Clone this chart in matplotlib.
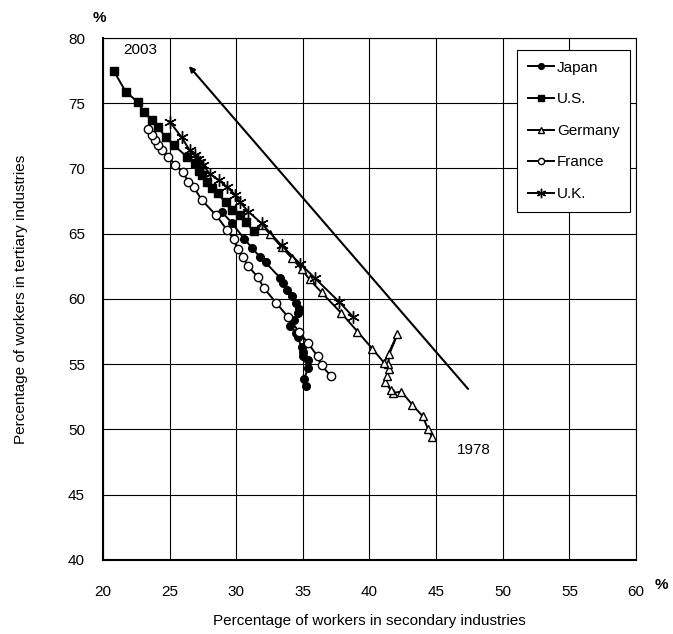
import matplotlib.pyplot as plt

plt.rcParams['font.family'] = ['Liberation Sans', 'DejaVu Sans']

# secondary (x) / tertiary (y) share of workers, 1978 -> 2003
japan_x = [35.2, 35.1, 35.4, 35.4, 35.0, 35.0, 34.9, 34.6, 34.5, 34.0, 34.3, 34.6,
           34.7, 34.5, 34.2, 33.8, 33.5, 33.3, 32.2, 31.8, 31.2, 30.6, 29.7, 28.9]
japan_y = [53.3, 53.9, 54.7, 55.3, 55.6, 55.9, 56.3, 57.1, 57.4, 57.9, 58.4, 58.9,
           59.2, 59.7, 60.2, 60.7, 61.2, 61.6, 62.8, 63.2, 63.9, 64.6, 65.8, 66.7]

us_x = [31.3, 30.7, 30.3, 29.7, 29.2, 28.6, 28.2, 27.8, 27.4, 27.2, 26.9, 26.3,
        25.3, 24.7, 24.1, 23.7, 23.1, 22.6, 21.7, 20.8]
us_y = [65.2, 65.9, 66.4, 66.8, 67.4, 68.1, 68.5, 69.0, 69.5, 69.8, 70.4, 70.9,
        71.8, 72.4, 73.2, 73.7, 74.3, 75.1, 75.9, 77.5]

germany_x = [44.7, 44.4, 44.0, 43.2, 42.4, 41.8, 41.6, 41.2, 41.3, 41.5, 41.4, 41.5,
             42.1, 41.1, 40.2, 39.1, 37.9, 36.4, 35.5, 34.9, 34.2, 33.4, 32.5, 31.9]
germany_y = [49.4, 50.0, 51.0, 51.9, 52.9, 52.8, 53.0, 53.6, 54.1, 54.6, 55.0, 55.8,
             57.3, 55.1, 56.2, 57.5, 58.9, 60.5, 61.5, 62.3, 63.1, 64.0, 65.0, 65.7]

france_x = [37.1, 36.4, 36.1, 35.4, 34.7, 33.9, 33.0, 32.1, 31.6, 30.9, 30.5, 30.1,
            29.8, 29.3, 28.5, 27.4, 26.8, 26.4, 26.0, 25.4, 24.9, 24.4, 24.1, 23.9,
            23.7, 23.4]
france_y = [54.1, 54.9, 55.6, 56.6, 57.5, 58.6, 59.7, 60.8, 61.7, 62.5, 63.2, 63.8,
            64.6, 65.3, 66.4, 67.6, 68.6, 69.0, 69.7, 70.3, 70.9, 71.4, 71.8, 72.2,
            72.6, 73.0]

uk_x = [38.8, 37.7, 35.9, 34.8, 33.4, 31.9, 30.9, 30.3, 29.9, 29.3, 28.7, 28.0,
        27.5, 27.3, 27.1, 26.9, 26.5, 25.9, 25.0]
uk_y = [58.6, 59.8, 61.6, 62.7, 64.1, 65.8, 66.7, 67.4, 68.0, 68.6, 69.1, 69.6,
        70.3, 70.5, 70.7, 71.0, 71.4, 72.4, 73.6]

fig = plt.figure(figsize=(6.73, 6.34), dpi=100)
ax = fig.add_axes([0.153, 0.117, 0.792, 0.823])

lw = 1.4
ax.plot(japan_x, japan_y, '-o', color='black', lw=lw, ms=5.5, label='Japan', zorder=3)
ax.plot(us_x, us_y, '-s', color='black', lw=lw, ms=5.5, label='U.S.', zorder=3)
ax.plot(germany_x, germany_y, '-^', color='black', mfc='white', lw=lw, ms=6,
        label='Germany', zorder=3)
ax.plot(france_x, france_y, '-o', color='black', mfc='white', lw=lw, ms=6,
        label='France', zorder=3)
ax.plot(uk_x, uk_y, '-', marker=(6, 2, 0), color='black', lw=lw, ms=9, mew=1.0,
        label='U.K.', zorder=4)

# trend arrow from 1978 towards 2003
ax.annotate('', xy=(26.45, 77.85), xytext=(47.4, 53.1),
            arrowprops=dict(arrowstyle='-|>', color='black', lw=1.5,
                            mutation_scale=8, shrinkA=0, shrinkB=0))
ax.text(22.8, 79.1, '2003', fontsize=11, ha='center', va='center')
ax.text(47.8, 48.4, '1978', fontsize=11, ha='center', va='center')

ax.set_xlim(20, 60)
ax.set_ylim(40, 80)
ax.set_xticks(range(20, 61, 5))
ax.set_yticks(range(40, 81, 5))
ax.grid(True, color='black', lw=0.8)
ax.set_axisbelow(True)
ax.tick_params(labelsize=11, length=0, pad=13)
ax.tick_params(axis='x', pad=18)
for s in ax.spines.values():
    s.set_linewidth(0.8)
ax.spines['left'].set_linewidth(1.5)
ax.spines['bottom'].set_linewidth(1.5)

ax.set_xlabel('Percentage of workers in secondary industries', fontsize=11, labelpad=11)
ax.set_ylabel('Percentage of workers in tertiary industries', fontsize=11, labelpad=29)
fig.text(0.148, 0.972, '%', fontsize=11, fontweight='bold', ha='center', va='center')
fig.text(0.982, 0.078, '%', fontsize=11, fontweight='bold', ha='center', va='center')

leg = ax.legend(loc='upper right', bbox_to_anchor=(0.989, 0.977), borderaxespad=0,
                fontsize=11, frameon=True, fancybox=False, edgecolor='black',
                framealpha=1, handlelength=1.7, handletextpad=0.2,
                labelspacing=1.15, borderpad=0.7, markerscale=0.75)
leg.get_frame().set_linewidth(0.8)

fig.savefig('out.png', dpi=100)
